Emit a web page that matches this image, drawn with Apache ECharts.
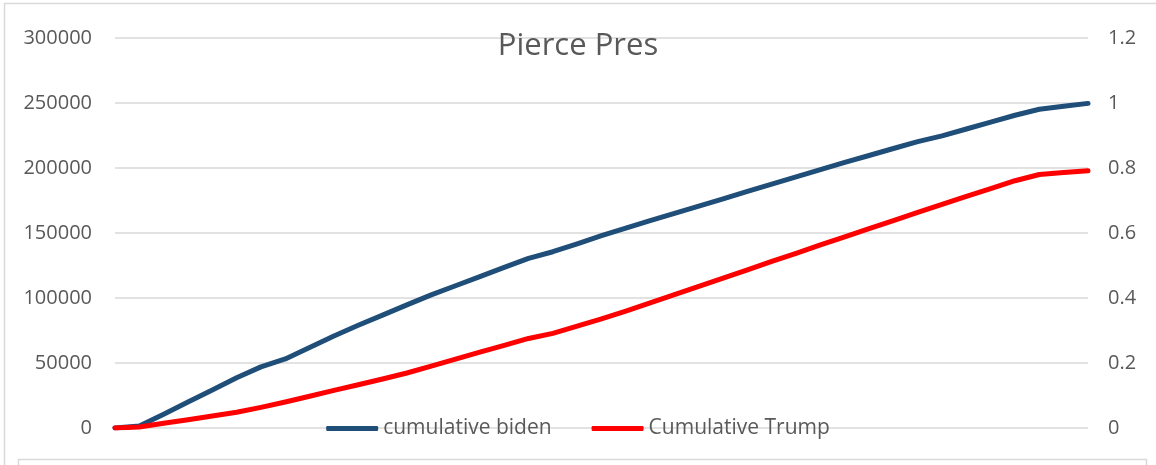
<!DOCTYPE html>
<html>
<head>
<meta charset="utf-8">
<script src="https://cdn.jsdelivr.net/npm/echarts@6/dist/echarts.min.js"></script>
<style>
html,body{margin:0;padding:0;background:#fff;}
#chart{width:1156px;height:465px;}
</style>
</head>
<body>
<div id="chart"></div>
<script>
// Category index (precinct order)
const categories = Array.from({length: 41}, (_, i) => String(i + 1));
const cumulativeBiden = [0,1500,10600,20000,29300,38700,47000,53100,62000,70800,79000,86800,94700,102400,109400,116400,123500,130500,135600,141700,147900,153800,159500,165100,170700,176300,182000,187600,193100,198800,204300,209600,215000,220300,224700,230000,235300,240600,245200,247500,249700];
const cumulativeTrump = [0,800,3600,6400,9300,12100,15900,20000,24400,28900,33300,37700,42300,47600,53000,58300,63600,68900,72800,78300,83900,89900,96200,102600,109000,115300,121700,128100,134400,140800,147100,153300,159600,165800,172000,178100,184100,190200,195000,196500,197900];
const seriesNames = ['cumulative biden', 'Cumulative Trump'];
const titleText = 'Pierce Pres';

const FONT = '"Open Sans", "Noto Sans", sans-serif';
const chart = echarts.init(document.getElementById('chart'), null, {renderer: 'canvas'});
chart.setOption({
  animation: false,
  backgroundColor: '#fff',
  title: {
    text: titleText,
    left: 'center',
    top: 26,
    textStyle: {fontFamily: FONT, fontSize: 31, fontWeight: 'normal', color: '#595959'}
  },
  legend: {
    data: seriesNames,
    bottom: 21,
    left: 'center',
    itemWidth: 52,
    itemHeight: 5,
    itemGap: 40,
    icon: 'roundRect',
    textStyle: {fontFamily: FONT, fontSize: 21, color: '#595959'}
  },
  grid: {left: 115, right: 68, top: 38, bottom: 37, containLabel: false},
  xAxis: {
    type: 'category',
    data: categories,
    boundaryGap: false,
    axisLine: {show: false},
    axisTick: {show: false},
    axisLabel: {show: false},
    splitLine: {show: false}
  },
  yAxis: [
    {
      type: 'value', min: 0, max: 300000, interval: 50000,
      axisLine: {show: false}, axisTick: {show: false},
      axisLabel: {fontFamily: FONT, fontSize: 20, color: '#595959', margin: 23,
        formatter: v => String(v)},
      splitLine: {lineStyle: {color: '#d9d9d9', width: 1.5}}
    },
    {
      type: 'value', min: 0, max: 1.2, interval: 0.2,
      axisLine: {show: false}, axisTick: {show: false},
      axisLabel: {fontFamily: FONT, fontSize: 20, color: '#595959', margin: 20,
        formatter: v => String(Math.round(v * 10) / 10)},
      splitLine: {show: false}
    }
  ],
  series: [
    {
      name: seriesNames[0], type: 'line', data: cumulativeBiden, yAxisIndex: 0,
      showSymbol: false, symbol: 'none',
      lineStyle: {color: '#1F4E79', width: 5, cap: 'round', join: 'round'},
      itemStyle: {color: '#1F4E79'}, z: 3
    },
    {
      name: seriesNames[1], type: 'line', data: cumulativeTrump, yAxisIndex: 0,
      showSymbol: false, symbol: 'none',
      lineStyle: {color: '#FF0000', width: 5, cap: 'round', join: 'round'},
      itemStyle: {color: '#FF0000'}, z: 4
    }
  ],
  graphic: [
    {type: 'rect', left: 2, top: 1, shape: {width: 1160, height: 500},
      style: {fill: 'none', stroke: '#d9d9d9', lineWidth: 1.5}, silent: true, z: -1},
    {type: 'rect', left: 16, top: 457, shape: {width: 1128, height: 40},
      style: {fill: 'none', stroke: '#d9d9d9', lineWidth: 1.5}, silent: true, z: -1}
  ]
});
</script>
</body>
</html>
